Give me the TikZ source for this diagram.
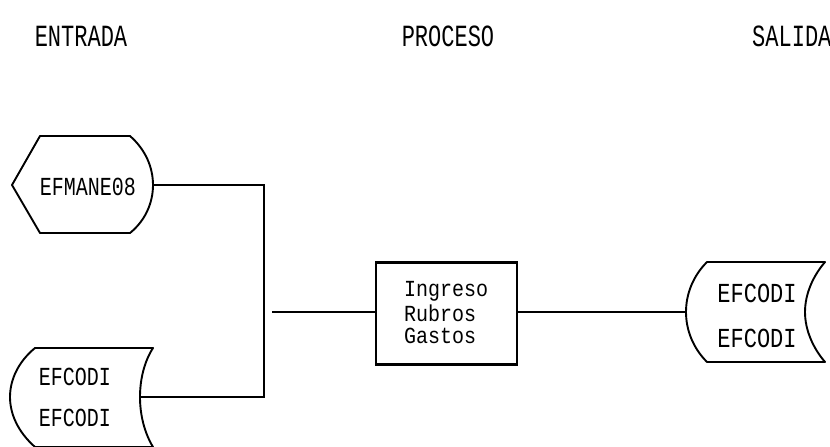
\documentclass[tikz,border=0pt]{standalone}
\usepackage{fontspec}
\setmonofont{Liberation Mono}
\begin{document}
\begin{tikzpicture}[x=1pt,y=-1pt,
  shapeline/.style={line width=1.9pt, line join=round},
  conn/.style={line width=1.2pt},
  lbl/.style={font=\fontsize{20}{21}\selectfont\ttfamily, inner sep=0pt},
  hdr/.style={font=\fontsize{22}{22}\selectfont\ttfamily, inner sep=0pt},
  procbox/.style={draw, line width=2.6pt, minimum width=141pt, minimum height=102pt, inner sep=0pt},
  boxtxt/.style={font=\fontsize{20}{21}\selectfont\ttfamily, inner sep=0pt, anchor=west}]
\clip (0,0) rectangle (830,447);
\fill[white] (0,0) rectangle (830,447);

% headers
\node[hdr] (hin) at (81,36) {\scalebox{1}[1.4]{ENTRADA}};
\node[hdr] (hpr) at (448,36) {\scalebox{1}[1.4]{PROCESO}};
\node[hdr, anchor=west] (hout) at (752,36) {\scalebox{1}[1.4]{SALIDA}};

% display shape (EFMANE08)
\coordinate (dispR) at (153,185);
\draw[shapeline] (40,136) -- (130,136)
  .. controls (146,150) and (153,168) .. (dispR)
  .. controls (153,202) and (146,220) .. (130,233)
  -- (40,233) -- (12,185) -- cycle;
\node[lbl] (disp) at (88,187) {\scalebox{1}[1.3]{EFMANE08}};

% stored data input (EFCODI)
\coordinate (stoR) at (140,397);
\draw[shapeline] (35,348) -- (153,348)
  .. controls (144,362) and (140,380) .. (stoR)
  .. controls (140,414) and (144,432) .. (153,447)
  -- (35,447)
  .. controls (18,432) and (10,414) .. (10,397)
  .. controls (10,380) and (18,362) .. cycle;
\node[lbl] (sto1) at (75,377) {\scalebox{1}[1.3]{EFCODI}};
\node[lbl] (sto2) at (75,418) {\scalebox{1}[1.3]{EFCODI}};

% process
\node[procbox] (proc) at (446.5,313.5) {};
\node[boxtxt] (p1) at (404,291) {\scalebox{1}[1.15]{Ingreso}};
\node[boxtxt] (p2) at (404,313.5) {\scalebox{1}[1.15]{Rubros}};
\node[boxtxt] (p3) at (404,336) {\scalebox{1}[1.15]{Gastos}};

% stored data output
\coordinate (outL) at (686,312);
\draw[shapeline] (707,262) -- (825,262)
  .. controls (813,276) and (805,294) .. (805,312)
  .. controls (805,330) and (813,348) .. (825,362)
  -- (707,362)
  .. controls (693,348) and (686,330) .. (outL)
  .. controls (686,294) and (693,276) .. cycle;
\node[lbl, font=\fontsize{22}{22}\selectfont\ttfamily] (out1) at (757,293) {\scalebox{1}[1.25]{EFCODI}};
\node[lbl, font=\fontsize{22}{22}\selectfont\ttfamily] (out2) at (757,338) {\scalebox{1}[1.25]{EFCODI}};

% connectors
\coordinate (jtop) at (264,185);
\coordinate (jbot) at (264,397);
\coordinate (jmid) at (272,312);
\draw[conn] (dispR) -- (jtop) -- (jbot) -- (stoR);
\draw[conn] (jmid) -- (proc.west |- jmid);
\draw[conn] (proc.east |- outL) -- (outL);
\end{tikzpicture}
\end{document}
